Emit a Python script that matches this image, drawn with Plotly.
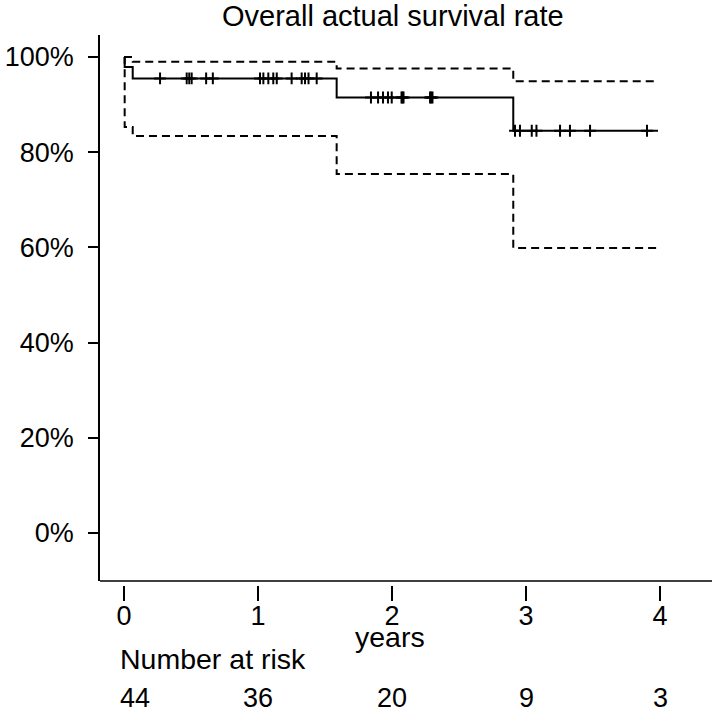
import plotly.graph_objects as go
import numpy as np

# ---- data ----
step_times = [0.0, 0.005, 0.065, 1.587, 2.905]
surv_vals = [1.0, 0.979, 0.955, 0.915, 0.845]
upper_vals = [1.0, 1.0, 0.990, 0.976, 0.949]
lower_vals = [1.0, 0.853, 0.834, 0.754, 0.599]
end_time = 3.985

censor_times = [0.269, 0.468, 0.487, 0.505, 0.613, 0.663,
                1.015, 1.040, 1.077, 1.114, 1.140, 1.251, 1.326, 1.351, 1.377, 1.438,
                1.843, 1.896, 1.933, 1.970, 1.998, 2.071, 2.078, 2.086,
                2.284, 2.293, 2.302, 2.918, 2.955,
                3.043, 3.078, 3.254, 3.328, 3.478, 3.903]

risk_times = [0, 1, 2, 3, 4]
risk_counts = [44, 36, 20, 9, 3]

x_ticks = [0, 1, 2, 3, 4]
y_ticks = [0, 0.2, 0.4, 0.6, 0.8, 1.0]
y_tick_text = ["0%", "20%", "40%", "60%", "80%", "100%"]

title_text = "Overall actual survival rate"
x_title = "years"
risk_title = "Number at risk"

# ---- geometry ----
W, H = 718, 712
ML, MR, MT, MB = 100, 6, 35, 100
PW = W - ML - MR
PH = H - MT - MB
AXIS_Y = 581        # pixel row of the x axis line
TICK_TOP = 585      # pixel row where x ticks start

def py(pix):
    """pixel row -> paper y"""
    return (H - MB - pix) / PH

def px(pix):
    return (pix - ML) / PW

FONT = "Liberation Sans, Arial, Helvetica, sans-serif"
FS_NUM = 27
FS_TXT = 28.5


def extend(vals):
    return list(vals) + [vals[-1]]

tx = list(step_times) + [end_time]

def step_lookup(t):
    idx = np.searchsorted(np.array(step_times), t, side="right") - 1
    return surv_vals[idx]

fig = go.Figure()
dash = "8px,5px"
LW = 2
fig.add_trace(go.Scatter(x=tx, y=extend(upper_vals), mode="lines", line_shape="hv",
                         line=dict(color="black", width=LW, dash=dash), hoverinfo="skip"))
fig.add_trace(go.Scatter(x=tx, y=extend(lower_vals), mode="lines", line_shape="hv",
                         line=dict(color="black", width=LW, dash=dash), hoverinfo="skip"))
fig.add_trace(go.Scatter(x=tx, y=extend(surv_vals), mode="lines", line_shape="hv",
                         line=dict(color="black", width=LW), hoverinfo="skip"))
fig.add_trace(go.Scatter(x=censor_times, y=[step_lookup(t) for t in censor_times], mode="markers",
                         marker=dict(symbol="cross-thin", size=8.5, line=dict(color="black", width=2)),
                         hoverinfo="skip"))

x_left = -(124 - ML) / 134.0
x_right = (W - MR - 124) / 134.0
dom_bottom = py(AXIS_Y)
y0_pix, y1_pix = 533, 57
scale = (y0_pix - y1_pix) / 1.0
y_lo = -(AXIS_Y - y0_pix) / scale
y_hi = (y0_pix - MT) / scale

fig.update_layout(
    width=W, height=H,
    margin=dict(l=ML, r=MR, t=MT, b=MB),
    paper_bgcolor="white", plot_bgcolor="white",
    showlegend=False,
    font=dict(family=FONT, size=FS_NUM, color="black"),
    xaxis=dict(range=[x_left, x_right], anchor="free", position=py(TICK_TOP),
               showline=False, showgrid=False, zeroline=False,
               tickmode="array", tickvals=x_ticks, ticktext=[str(v) for v in x_ticks],
               ticks="outside", ticklen=15, tickwidth=1.5, tickcolor="black",
               tickfont=dict(family=FONT, size=FS_NUM, color="black"), ticklabelstandoff=-8),
    yaxis=dict(range=[y_lo, y_hi], domain=[dom_bottom, 1], anchor="x",
               showline=True, linecolor="black", linewidth=1.5,
               showgrid=False, zeroline=False,
               tickmode="array", tickvals=y_ticks, ticktext=y_tick_text,
               ticks="outside", ticklen=10, tickwidth=1.5, tickcolor="black",
               tickfont=dict(family=FONT, size=FS_NUM, color="black"), ticklabelstandoff=9),
)

# x-axis box line (bty = "l")
fig.add_shape(type="line", xref="x domain", yref="y domain", x0=0, x1=1, y0=0, y1=0,
              line=dict(color="black", width=1.5))

ann = []
ann.append(dict(text=title_text, xref="paper", yref="paper", x=px(393), y=py(16),
                xanchor="center", yanchor="middle", showarrow=False,
                font=dict(family=FONT, size=29, color="black")))
ann.append(dict(text=x_title, xref="paper", yref="paper", x=px(390), y=py(637),
                xanchor="center", yanchor="middle", showarrow=False,
                font=dict(family=FONT, size=FS_TXT, color="black")))
ann.append(dict(text=risk_title, xref="paper", yref="paper", x=px(118), y=py(659),
                xanchor="left", yanchor="middle", showarrow=False,
                font=dict(family=FONT, size=FS_TXT, color="black")))
for t, n in zip(risk_times, risk_counts):
    if t == risk_times[0]:
        ann.append(dict(text=str(n), xref="x", yref="paper", x=t, y=py(698), xshift=-6,
                        xanchor="left", yanchor="middle", showarrow=False,
                        font=dict(family=FONT, size=FS_NUM, color="black")))
    else:
        ann.append(dict(text=str(n), xref="x", yref="paper", x=t, y=py(698),
                        xanchor="center", yanchor="middle", showarrow=False,
                        font=dict(family=FONT, size=FS_NUM, color="black")))
fig.update_layout(annotations=ann)

fig.write_html("out.html", config={"displayModeBar": False},
               post_script="document.body.style.margin='0px';document.body.style.overflow='hidden';")
